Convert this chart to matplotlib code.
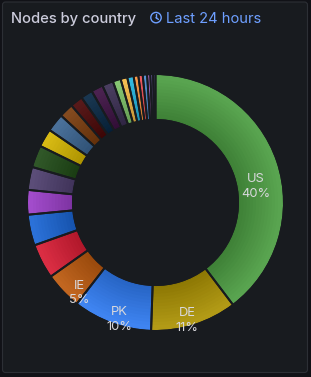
import numpy as np
import matplotlib
matplotlib.use("Agg")
import matplotlib.pyplot as plt
from matplotlib.patches import FancyBboxPatch, Circle
from matplotlib.colors import to_rgb

plt.rcParams["font.family"] = ["Inter", "DejaVu Sans"]

W, H = 311, 377
BG_OUT = "#111217"
BG_PANEL = "#181b1f"
BORDER = "#2c2f35"
TXT = "#ccccdc"
BLUE_TXT = "#6e9fff"

# ── data (only the four biggest slices carry names) ────
countries = ["US", "DE", "PK", "IE"] + ["c%02d" % i for i in range(5, 26)]
shares = [39.8, 10.9, 10.0, 4.7, 4.4, 3.9, 3.1, 2.9, 2.8, 2.3, 2.3, 1.8, 1.6,
          1.5, 1.5, 1.4, 1.0, 0.85, 0.8, 0.6, 0.55, 0.55, 0.4, 0.35, 0.3]
colors = ["#4c9e42", "#ad9303", "#2f7bf2", "#bd5a0e", "#d91c34", "#1a66d6",
          "#9b3ec8", "#4e3f6e", "#1f4a16", "#d6b600", "#3b6592", "#7a3b0c",
          "#4a0606", "#062642", "#3c1042", "#3a2d52", "#7dc267", "#f5b944",
          "#22b5e0", "#f7923a", "#ee4b50", "#4a8bd0", "#c26bd8", "#8068d0",
          "#6a5ac0"]


def shade(c, t):
    # radial gradient: darker towards the hole, lighter at the rim
    rgb = np.array(to_rgb(c))
    inner = rgb * 0.8
    outer = rgb + (1 - rgb) * 0.08
    return tuple(np.clip(inner + (outer - inner) * t, 0, 1))


fig = plt.figure(figsize=(W / 100, H / 100), dpi=100, facecolor=BG_OUT)

# ── panel chrome in pixel coordinates ───────────────────────────────────────
bg = fig.add_axes([0, 0, 1, 1])
bg.set_xlim(0, W); bg.set_ylim(H, 0); bg.axis("off")
bg.add_patch(FancyBboxPatch((2.5, 2.0), 305, 370.5,
                            boxstyle="round,pad=0,rounding_size=3",
                            fc=BG_PANEL, ec=BORDER, lw=0.8))
bg.text(11, 23, "Nodes by country", fontsize=10.6, fontweight="medium",
        color=TXT, va="baseline", ha="left")
bg.add_patch(Circle((156, 17.6), 5.2, fill=False, ec=BLUE_TXT, lw=1.0))
bg.plot([156, 156], [17.6, 14.2], color=BLUE_TXT, lw=1.0, solid_capstyle="round")
bg.plot([156, 158.4], [17.6, 19.4], color=BLUE_TXT, lw=1.0, solid_capstyle="round")
bg.text(166, 23, "Last 24 hours", fontsize=10.6, color=BLUE_TXT,
        va="baseline", ha="left")

# ── donut ───────────────────────────────────────────────────────────────────
cx, cy, R_px, half = 155.5, 202.5, 127.5, 140.0
ax = fig.add_axes([(cx - half) / W, (H - cy - half) / H, 2 * half / W, 2 * half / H])
ax.set_facecolor("none")

R_OUT, R_IN = 1.0, 0.655
N = 14
edges = np.linspace(R_IN, R_OUT, N + 1)
for i in range(N):
    t = (i + 0.5) / N
    dr = edges[i + 1] - edges[i]
    w = dr if i == 0 else dr * 1.6
    ax.pie(shares, radius=edges[i + 1], colors=[shade(c, t) for c in colors],
           startangle=90, counterclock=False,
           wedgeprops=dict(width=w, linewidth=0))

pad = 1.0 / R_px
wedges, _ = ax.pie(shares, radius=R_OUT + pad, colors=["none"] * len(shares),
                   startangle=90, counterclock=False,
                   wedgeprops=dict(width=R_OUT - R_IN + 2 * pad,
                                   edgecolor=BG_PANEL, linewidth=1.4))

total = sum(shares)
r_mid = (R_IN + R_OUT) / 2
for name, val, wd in zip(countries, shares, wedges):
    pct = val / total * 100
    if pct < 4.5:
        continue
    th = np.deg2rad((wd.theta1 + wd.theta2) / 2)
    x, y = r_mid * np.cos(th), r_mid * np.sin(th)
    ax.annotate(name, (x, y), xytext=(0, -7.5), textcoords="offset points",
                ha="center", va="center", fontsize=9.3, color="#d8d8dc")
    ax.annotate("%d%%" % round(pct), (x, y), xytext=(0, -18), textcoords="offset points",
                ha="center", va="center", fontsize=9.3, color="#d8d8dc")

lim = half / R_px
ax.set_xlim(-lim, lim); ax.set_ylim(-lim, lim)
ax.set_aspect("equal")
ax.axis("off")

fig.savefig("out.png", dpi=100, facecolor=BG_OUT)
